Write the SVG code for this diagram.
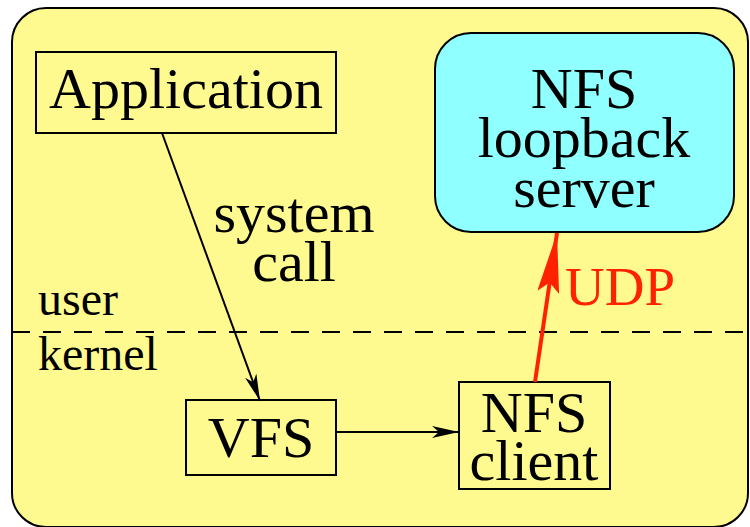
<svg xmlns="http://www.w3.org/2000/svg" width="750" height="527" viewBox="0 0 750 527">
<defs>
<style>
text{font-family:"Liberation Serif","Times New Roman",serif;fill:#000;text-anchor:middle}
.big{font-size:58px}
.lbl{font-size:48px;text-anchor:start}
.box{fill:none;stroke:#000;stroke-width:2}
.conn{stroke:#000;stroke-width:2;fill:none}
</style>
<marker id="ah" viewBox="0 0 27 12" refX="27" refY="6" markerWidth="27" markerHeight="12" markerUnits="userSpaceOnUse" orient="auto">
<path d="M0,0 L27,6 L0,12 L7,6 Z" fill="#000"/>
</marker>
<marker id="ahr" viewBox="0 0 60 22" refX="60" refY="11" markerWidth="60" markerHeight="22" markerUnits="userSpaceOnUse" orient="auto">
<path d="M0,0 L60,11 L0,22 L10,11 Z" fill="#ff2200"/>
</marker>
</defs>
<rect x="12" y="8" width="736" height="519" rx="34" fill="#fffa8f" stroke="#000" stroke-width="2"/>
<line x1="12" y1="332" x2="750" y2="332" stroke="#000" stroke-width="2" stroke-dasharray="18,13"/>
<text class="lbl" x="38" y="315">user</text>
<text class="lbl" x="38" y="370">kernel</text>
<g id="application">
<rect class="box" x="36" y="52" width="300" height="81"/>
<text class="big" x="186" y="108">Application</text>
</g>
<g id="nfs-server">
<rect x="435" y="33" width="299" height="199" rx="36" fill="#90ffff" stroke="#000" stroke-width="2"/>
<text class="big" x="584" y="108">NFS</text>
<text class="big" x="584" y="157">loopback</text>
<text class="big" x="584" y="207">server</text>
</g>
<g id="vfs">
<rect class="box" x="186" y="400" width="150" height="75"/>
<text class="big" x="261" y="457">VFS</text>
</g>
<g id="nfs-client">
<rect class="box" x="459" y="382" width="151" height="107"/>
<text class="big" x="534" y="432">NFS</text>
<text class="big" x="534" y="480">client</text>
</g>
<g id="connectors">
<line class="conn" x1="162" y1="133" x2="260" y2="401" marker-end="url(#ah)"/>
<text x="294" y="232" style="font-size:58px">system</text>
<text x="294" y="281" style="font-size:58px">call</text>
<line class="conn" x1="336" y1="432" x2="459" y2="432" marker-end="url(#ah)"/>
<line x1="535" y1="382" x2="557" y2="233" stroke="#ff2200" stroke-width="4" marker-end="url(#ahr)"/>
<text x="565" y="305" style="font-size:55px;fill:#ff2200;text-anchor:start">UDP</text>
</g>
</svg>
